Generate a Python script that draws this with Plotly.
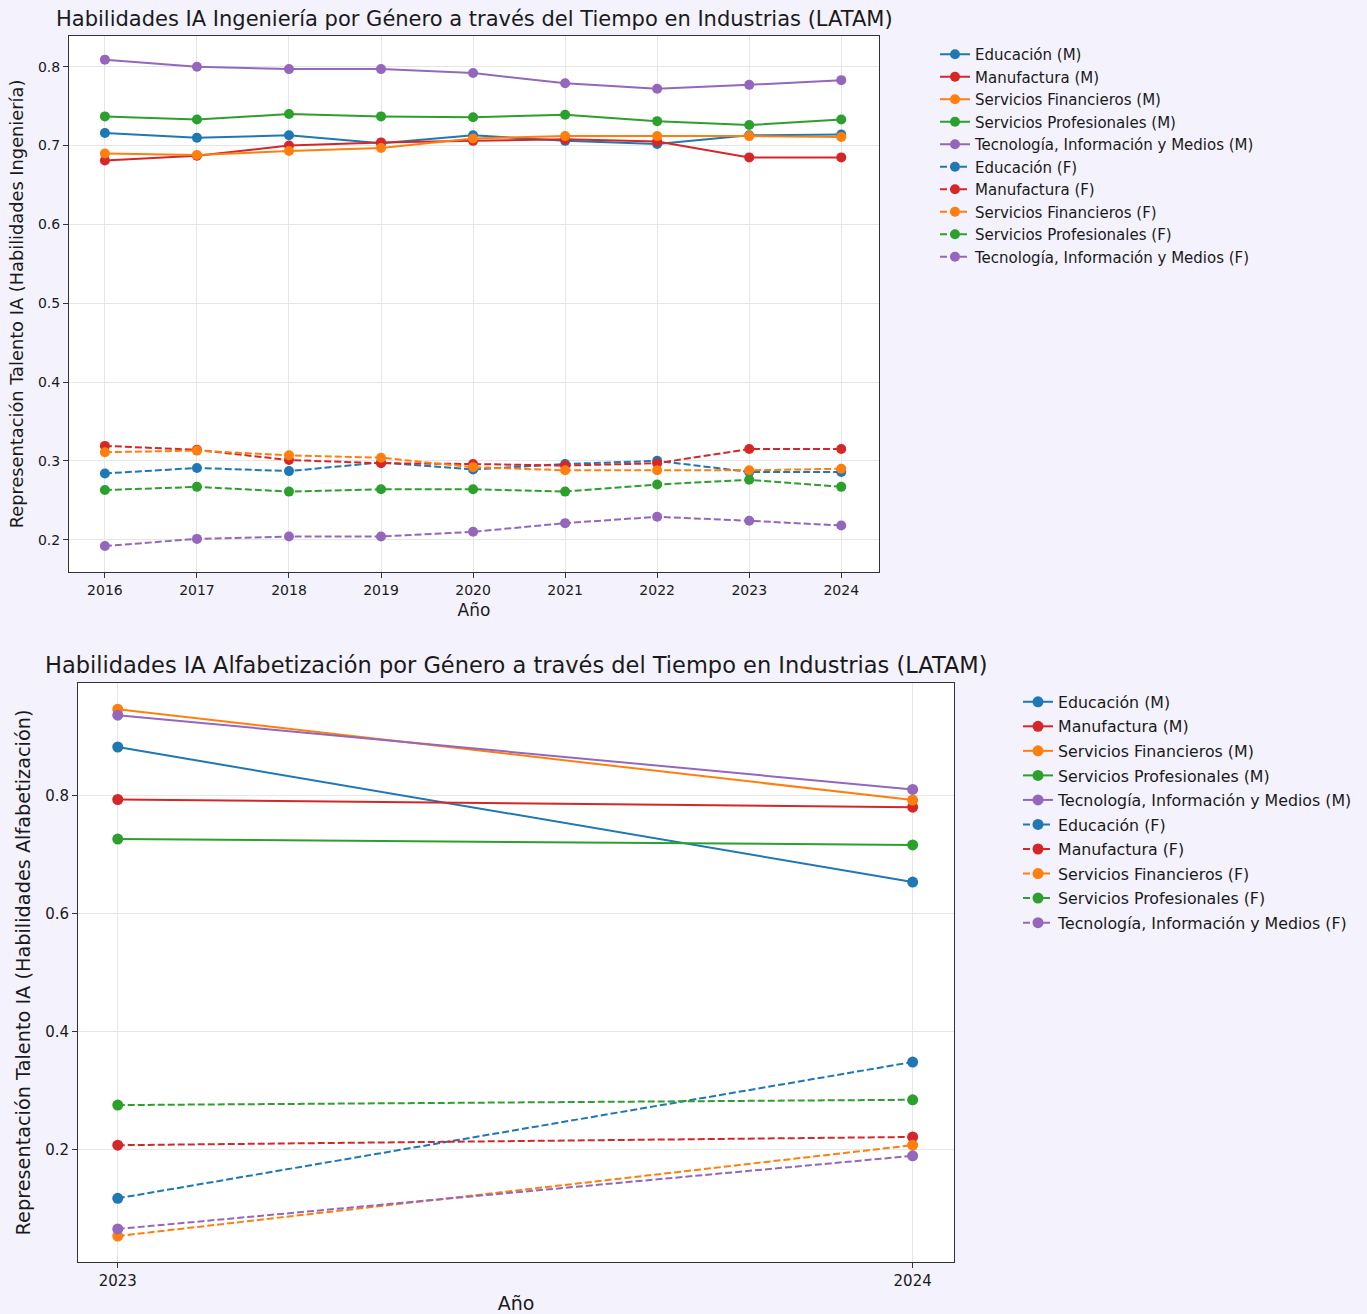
import plotly.graph_objects as go

# ---------------- data ----------------
industries = ["Educación", "Manufactura", "Servicios Financieros",
              "Servicios Profesionales", "Tecnología, Información y Medios"]
colors = ["#1f77b4", "#d62728", "#ff7f0e", "#2ca02c", "#9467bd"]

years_eng = [2016, 2017, 2018, 2019, 2020, 2021, 2022, 2023, 2024]
eng_m = {
    "Educación":                        [0.716, 0.710, 0.713, 0.703, 0.713, 0.706, 0.702, 0.713, 0.714],
    "Manufactura":                      [0.681, 0.687, 0.700, 0.704, 0.706, 0.708, 0.705, 0.685, 0.685],
    "Servicios Financieros":            [0.690, 0.688, 0.693, 0.697, 0.709, 0.712, 0.712, 0.712, 0.711],
    "Servicios Profesionales":          [0.737, 0.733, 0.740, 0.737, 0.736, 0.739, 0.731, 0.726, 0.733],
    "Tecnología, Información y Medios": [0.809, 0.800, 0.797, 0.797, 0.792, 0.779, 0.772, 0.777, 0.783],
}
eng_f = {
    "Educación":                        [0.284, 0.291, 0.287, 0.298, 0.289, 0.296, 0.300, 0.286, 0.286],
    "Manufactura":                      [0.319, 0.314, 0.301, 0.297, 0.296, 0.294, 0.297, 0.315, 0.315],
    "Servicios Financieros":            [0.311, 0.313, 0.307, 0.304, 0.292, 0.288, 0.288, 0.288, 0.290],
    "Servicios Profesionales":          [0.263, 0.267, 0.261, 0.264, 0.264, 0.261, 0.270, 0.276, 0.267],
    "Tecnología, Información y Medios": [0.192, 0.201, 0.204, 0.204, 0.210, 0.221, 0.229, 0.224, 0.218],
}

years_lit = [2023, 2024]
lit_m = {
    "Educación":                        [0.883, 0.654],
    "Manufactura":                      [0.794, 0.781],
    "Servicios Financieros":            [0.947, 0.793],
    "Servicios Profesionales":          [0.727, 0.717],
    "Tecnología, Información y Medios": [0.937, 0.811],
}
lit_f = {
    "Educación":                        [0.118, 0.349],
    "Manufactura":                      [0.208, 0.222],
    "Servicios Financieros":            [0.054, 0.208],
    "Servicios Profesionales":          [0.276, 0.285],
    "Tecnología, Información y Medios": [0.066, 0.190],
}

title_eng = "Habilidades IA Ingeniería por Género a través del Tiempo en Industrias (LATAM)"
title_lit = "Habilidades IA Alfabetización por Género a través del Tiempo en Industrias (LATAM)"
ylabel_eng = "Representación Talento IA (Habilidades Ingeniería)"
ylabel_lit = "Representación Talento IA (Habilidades Alfabetización)"
xlabel = "Año"

# ---------------- figure ----------------
W, H = 1367, 1314
FONT = "DejaVu Sans"
TXT = "#1a1a1a"
BG = "#f4f2fd"
DASH = "7px,3px"

fig = go.Figure()

def add_block(years, m, f, xa, ya, leg, msize, tag):
    for ind, c in zip(industries, colors):
        fig.add_trace(go.Scatter(x=years, y=m[ind], mode="lines+markers",
                                 name=f"{ind} (M)", line=dict(color=c, width=2),
                                 marker=dict(color=c, size=msize),
                                 legendgroup=f"{tag}-{ind}-M",
                                 xaxis=xa, yaxis=ya, legend=leg))
    for ind, c in zip(industries, colors):
        fig.add_trace(go.Scatter(x=years, y=f[ind], mode="lines+markers",
                                 name=f"{ind} (F)", line=dict(color=c, width=2, dash=DASH),
                                 marker=dict(color=c, size=msize),
                                 legendgroup=f"{tag}-{ind}-F",
                                 xaxis=xa, yaxis=ya, legend=leg))

add_block(years_eng, eng_m, eng_f, "x", "y", "legend", 10, "eng")
add_block(years_lit, lit_m, lit_f, "x2", "y2", "legend2", 11, "lit")

def px_x(p):
    return p / W

def px_y(p):
    return 1 - p / H

axis_common = dict(showline=True, linecolor="#333", linewidth=1, mirror=True,
                   ticks="outside", ticklen=5, tickcolor="#333",
                   showgrid=True, gridcolor="#e6e6e6", gridwidth=1, zeroline=False)

fig.update_layout(
    width=W, height=H, margin=dict(l=0, r=0, t=0, b=0),
    paper_bgcolor=BG, plot_bgcolor="white",
    font=dict(family=FONT, color=TXT, size=14),
    xaxis=dict(domain=[px_x(69), px_x(879)], anchor="y", range=[2015.61, 2024.41],
               tickvals=years_eng, ticktext=[str(y) for y in years_eng],
               tickfont=dict(size=14),
               title=dict(text=xlabel, font=dict(size=17), standoff=7), **axis_common),
    yaxis=dict(domain=[px_y(572), px_y(36)], anchor="x", range=[0.159, 0.839],
               tickvals=[0.2, 0.3, 0.4, 0.5, 0.6, 0.7, 0.8],
               ticktext=["0.2", "0.3", "0.4", "0.5", "0.6", "0.7", "0.8"],
               tickfont=dict(size=14),
               title=dict(text=ylabel_eng, font=dict(size=17.8), standoff=9), **axis_common),
    xaxis2=dict(domain=[px_x(78), px_x(954)], anchor="y2", range=[2022.95, 2024.052],
                tickvals=years_lit, ticktext=[str(y) for y in years_lit],
                tickfont=dict(size=15),
                title=dict(text=xlabel, font=dict(size=19), standoff=9), **axis_common),
    yaxis2=dict(domain=[px_y(1262), px_y(683)], anchor="x2", range=[0.010, 0.9915],
                tickvals=[0.2, 0.4, 0.6, 0.8], ticktext=["0.2", "0.4", "0.6", "0.8"],
                tickfont=dict(size=15),
                title=dict(text=ylabel_lit, font=dict(size=19.3), standoff=9), **axis_common),
    legend=dict(x=px_x(935), y=px_y(38), xanchor="left", yanchor="top",
                bgcolor="rgba(0,0,0,0)", font=dict(size=15, color=TXT),
                tracegroupgap=0),
    legend2=dict(x=px_x(1018), y=px_y(685), xanchor="left", yanchor="top",
                 bgcolor="rgba(0,0,0,0)", font=dict(size=15.8, color=TXT),
                 tracegroupgap=1),
    showlegend=True,
    annotations=[
        dict(text=title_eng, x=(px_x(69) + px_x(879)) / 2, y=px_y(19), xref="paper", yref="paper",
             xanchor="center", yanchor="middle", showarrow=False, font=dict(size=21, color=TXT)),
        dict(text=title_lit, x=(px_x(78) + px_x(954)) / 2, y=px_y(665), xref="paper", yref="paper",
             xanchor="center", yanchor="middle", showarrow=False, font=dict(size=22.5, color=TXT)),
    ],
)

fig.write_html("out.html", config={"displayModeBar": False},
               post_script="document.body.style.margin='0';")
